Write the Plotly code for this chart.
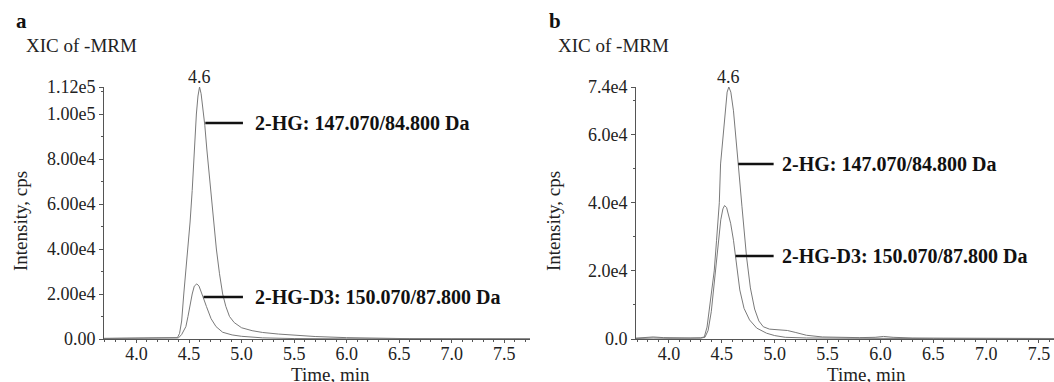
import plotly.graph_objects as go

# ---------------- data ----------------
# Panel a
time_a = [3.691, 3.9, 4.1, 4.3, 4.37, 4.39, 4.41, 4.43, 4.45, 4.47, 4.49, 4.51, 4.53, 4.55, 4.57,
          4.585, 4.60, 4.615, 4.63, 4.65, 4.67, 4.69, 4.72, 4.76, 4.79, 4.82, 4.85, 4.885, 4.93,
          5.0, 5.1, 5.2, 5.35, 5.5, 5.7, 6.0, 6.3, 6.6, 7.0, 7.4, 7.744]
hg_a = [300, 300, 300, 300, 350, 600, 2500, 8000, 20000, 30000, 40000, 52000, 66000, 85000, 100000,
        108000, 112000, 109000, 103000, 95000, 84000, 74000, 60000, 40000, 29000, 20000, 14500, 10000, 7300,
        5000, 3700, 2900, 2200, 1700, 1100, 600, 300, 150, 80, 60, 50]
time_a_d3 = [3.691, 3.9, 4.1, 4.3, 4.38, 4.40, 4.43, 4.45, 4.47, 4.49, 4.507, 4.53, 4.55, 4.574, 4.595,
             4.615, 4.633, 4.666, 4.71, 4.757, 4.82, 4.91, 5.0, 5.2, 5.5, 6.0, 6.5, 7.0, 7.744]
d3_a = [200, 200, 200, 200, 250, 500, 2000, 3500, 5500, 10000, 14400, 20000, 23500, 24500, 23500,
        21200, 18700, 14400, 9000, 5500, 3000, 1800, 1200, 500, 200, 80, 50, 40, 40]

# Panel b
time_b = [3.688, 3.75, 3.85, 3.95, 4.05, 4.2, 4.3, 4.334, 4.36, 4.384, 4.41, 4.428, 4.45, 4.476, 4.488,
          4.51, 4.53, 4.55, 4.566, 4.585, 4.61, 4.635, 4.655, 4.69, 4.734, 4.77, 4.81, 4.85, 4.892,
          4.95, 5.05, 5.12, 5.2, 5.3, 5.45, 5.6, 5.8, 5.95, 6.03, 6.12, 6.3, 6.6, 7.0, 7.3, 7.642]
hg_b = [250, 350, 600, 400, 300, 300, 350, 600, 3500, 8800, 15000, 20000, 29000, 40000, 51400,
        59000, 67000, 72500, 74000, 72500, 67000, 59000, 51400, 39000, 24000, 15000, 8800, 5300, 3600,
        2900, 2600, 2500, 1900, 1100, 600, 450, 400, 500, 750, 500, 300, 250, 200, 180, 150]
time_b_d3 = [3.688, 3.85, 4.0, 4.2, 4.3, 4.34, 4.37, 4.40, 4.43, 4.466, 4.49, 4.51, 4.526, 4.545,
             4.565, 4.583, 4.61, 4.63, 4.67, 4.71, 4.762, 4.83, 4.923, 5.0, 5.1, 5.3, 5.6, 6.0, 6.5, 7.0, 7.642]
d3_b = [150, 300, 200, 200, 250, 500, 2500, 8000, 17000, 29000, 35000, 38200, 39200, 38600,
        36500, 34000, 29000, 24400, 14400, 9000, 5600, 3200, 1700, 1000, 500, 300, 200, 150, 120, 100, 100]

ticks_a = [0, 20000, 40000, 60000, 80000, 100000, 112000]
ticktext_a = ["0.00", "2.00e4", "4.00e4", "6.00e4", "8.00e4", "1.00e5", "1.12e5"]
ticks_b = [0, 20000, 40000, 60000, 74000]
ticktext_b = ["0.0", "2.0e4", "4.0e4", "6.0e4", "7.4e4"]

label_hg = "2-HG: 147.070/84.800 Da"
label_d3 = "2-HG-D3: 150.070/87.800 Da"
peak_label = "4.6"

# ---------------- figure ----------------
FONT = "Liberation Serif"
CURVE = "#7a7a7a"
AXIS = "#555555"
TXT = "#222222"
W, H = 1054, 382

fig = go.Figure()
fig.add_trace(go.Scatter(x=time_a, y=hg_a, mode="lines", line=dict(color=CURVE, width=1), xaxis="x", yaxis="y"))
fig.add_trace(go.Scatter(x=time_a_d3, y=d3_a, mode="lines", line=dict(color=CURVE, width=1), xaxis="x", yaxis="y"))
fig.add_trace(go.Scatter(x=time_b, y=hg_b, mode="lines", line=dict(color=CURVE, width=1), xaxis="x2", yaxis="y2"))
fig.add_trace(go.Scatter(x=time_b_d3, y=d3_b, mode="lines", line=dict(color=CURVE, width=1), xaxis="x2", yaxis="y2"))

ydom = [(H - 339) / H, (H - 87) / H]

def xax(dom, rng, anchor):
    return dict(domain=dom, range=rng, anchor=anchor, showgrid=False, zeroline=False, showline=True,
                linecolor=AXIS, linewidth=1, ticks="outside", ticklen=3, tickcolor=AXIS,
                tick0=4.0, dtick=0.5, tickformat=".1f", automargin=False, ticklabelstandoff=-5,
                tickfont=dict(family=FONT, size=18, color=TXT),
                minor=dict(dtick=0.1, tick0=4.0, ticks="outside", ticklen=2, tickcolor=AXIS))

def yax(anchor, rng, tv, tt):
    return dict(domain=ydom, range=rng, anchor=anchor, showgrid=False, zeroline=False, showline=True,
                linecolor=AXIS, linewidth=1, ticks="outside", ticklen=4, tickcolor=AXIS,
                tickmode="array", tickvals=tv, ticktext=tt, automargin=False,
                tickfont=dict(family=FONT, size=18, color=TXT),
                minor=dict(tickmode="linear", tick0=0, dtick=10000, ticks="outside", ticklen=2, tickcolor=AXIS))

fig.update_layout(
    width=W, height=H,
    margin=dict(l=0, r=0, t=0, b=0, pad=0, autoexpand=False),
    paper_bgcolor="white", plot_bgcolor="white",
    showlegend=False,
    xaxis=xax([104/W, 530/W], [3.691, 7.744], "y"),
    yaxis=yax("x", [0, 112000], ticks_a, ticktext_a),
    xaxis2=xax([636/W, 1.0], [3.688, 7.642], "y2"),
    yaxis2=yax("x2", [0, 74000], ticks_b, ticktext_b),
)

ann = []
shapes = []
def P(x, y):
    return x / W, 1 - y / H

for x, letter in [(14, "a"), (547, "b")]:
    px, py = P(x, 21)
    ann.append(dict(xref="paper", yref="paper", x=px, y=py, text="<b>%s</b>" % letter,
                    showarrow=False, xanchor="left", yanchor="middle",
                    font=dict(family=FONT, size=21, color="#111")))
for x in [24, 556]:
    px, py = P(x, 46)
    ann.append(dict(xref="paper", yref="paper", x=px, y=py, text="XIC of -MRM",
                    showarrow=False, xanchor="left", yanchor="middle",
                    font=dict(family=FONT, size=19, color=TXT)))
for x in [20, 553]:
    px, py = P(x, 221)
    ann.append(dict(xref="paper", yref="paper", x=px, y=py, text="Intensity, cps",
                    showarrow=False, textangle=-90, xanchor="center", yanchor="middle",
                    font=dict(family=FONT, size=19, color=TXT)))
for x in [330, 866]:
    px, py = P(x, 374)
    ann.append(dict(xref="paper", yref="paper", x=px, y=py, text="Time, min",
                    showarrow=False, xanchor="center", yanchor="middle",
                    font=dict(family=FONT, size=19, color=TXT)))

ann.append(dict(xref="x", yref="y", x=4.60, y=112000, text=peak_label, showarrow=False,
                xanchor="center", yanchor="bottom", yshift=-2, font=dict(family=FONT, size=18, color=TXT)))
ann.append(dict(xref="x2", yref="y2", x=4.566, y=74000, text=peak_label, showarrow=False,
                xanchor="center", yanchor="bottom", yshift=-2, font=dict(family=FONT, size=18, color=TXT)))

leaders = [
    ("x", "y", 4.655, 5.013, 96000, 5.108, label_hg),
    ("x", "y", 4.638, 5.013, 18670, 5.108, label_d3),
    ("x2", "y2", 4.655, 4.99, 51400, 5.047, label_hg),
    ("x2", "y2", 4.63, 4.99, 24400, 5.047, label_d3),
]
for xr, yr, x0, x1, yv, xt, txt in leaders:
    shapes.append(dict(type="line", xref=xr, yref=yr, x0=x0, x1=x1, y0=yv, y1=yv,
                       line=dict(color="#111", width=2.5)))
    ann.append(dict(xref=xr, yref=yr, x=xt, y=yv, text="<b>%s</b>" % txt, showarrow=False,
                    xanchor="left", yanchor="middle", font=dict(family=FONT, size=20, color="#111")))

fig.update_layout(annotations=ann, shapes=shapes)
fig.write_html("out.html", config={"displayModeBar": False},
               post_script="document.body.style.margin='0';document.body.style.overflow='hidden';")
